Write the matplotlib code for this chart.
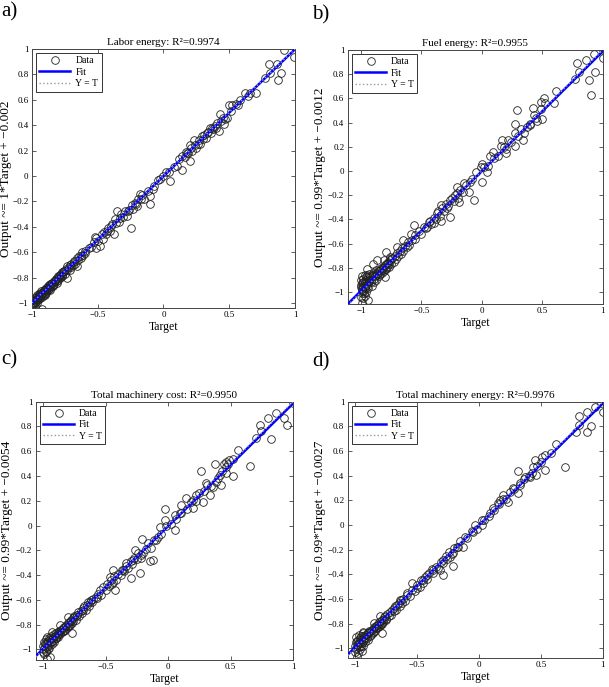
import matplotlib
matplotlib.use('Agg')
import matplotlib.pyplot as plt
from matplotlib.lines import Line2D
from matplotlib.ticker import FuncFormatter, MultipleLocator
import numpy as np

plt.rcParams['font.family'] = ['Liberation Serif', 'DejaVu Serif']

# (target, output) pairs
pts_a = [
    (0.99, 0.94), (0.92, 0.99), (0.86, 0.88), (0.80, 0.88), (0.81, 0.81), (0.89, 0.81), (0.87, 0.755),
    (0.77, 0.77), (0.70, 0.65), (0.62, 0.65), (0.58, 0.60), (0.52, 0.56), (0.50, 0.56), (0.51, 0.51),
    (0.43, 0.49), (0.48, 0.46), (0.46, 0.41), (0.39, 0.395), (0.35, 0.38), (0.38, 0.37), (0.33, 0.34),
    (0.42, 0.355), (0.29, 0.315), (0.28, 0.25), (0.23, 0.28), (0.25, 0.22), (0.20, 0.24), (0.18, 0.18),
    (0.20, 0.12), (0.14, 0.16), (0.10, 0.08), (0.14, 0.05), (0.04, 0.03), (0.05, -0.04), (-0.03, -0.025),
    (-0.08, -0.105), (-0.10, -0.16), (-0.18, -0.145), (-0.15, -0.18), (-0.10, -0.22), (-0.20, -0.24),
    (-0.23, -0.26), (-0.29, -0.28), (-0.35, -0.28), (-0.25, -0.41), (-0.28, -0.315), (-0.34, -0.36),
    (-0.37, -0.34), (-0.40, -0.395), (-0.43, -0.43), (-0.38, -0.46), (-0.46, -0.50), (-0.51, -0.49),
    (-0.52, -0.48), (-0.51, -0.57), (-0.48, -0.55), (-0.57, -0.565), (-0.60, -0.59), (-0.63, -0.63),
    (-0.68, -0.68), (-0.66, -0.71), (-0.71, -0.74), (-0.73, -0.80), (-0.77, -0.79), (-0.81, -0.84),
    (-0.84, -0.87), (-0.86, -0.895), (-0.89, -0.92), (-0.91, -0.935), (-0.94, -0.95), (-0.96, -0.97),
    (-0.99, -1.0), (-0.92, -1.05),
    (-0.55, -0.56), (-0.53, -0.52), (-0.50, -0.51), (-0.47, -0.46), (-0.45, -0.44), (-0.44, -0.46),
    (-0.42, -0.41), (-0.41, -0.43), (-0.39, -0.38), (-0.36, -0.37), (-0.33, -0.33), (-0.32, -0.30),
    (-0.31, -0.32), (-0.27, -0.28), (-0.26, -0.27), (-0.24, -0.23), (-0.22, -0.21), (-0.21, -0.22),
    (-0.19, -0.18), (-0.17, -0.18), (-0.16, -0.15), (-0.12, -0.12), (-0.07, -0.08), (-0.04, -0.03),
    (0.0, 0.0), (0.02, 0.03), (0.08, 0.07), (0.12, 0.13), (0.16, 0.15), (0.17, 0.19), (0.19, 0.18),
    (0.21, 0.22), (0.22, 0.20), (0.24, 0.24), (0.26, 0.25), (0.27, 0.28), (0.30, 0.29), (0.31, 0.32),
    (0.32, 0.30), (0.34, 0.35), (0.36, 0.34), (0.37, 0.38), (0.40, 0.38), (0.41, 0.42), (0.44, 0.43),
    (0.45, 0.46), (0.47, 0.45), (0.55, 0.57), (0.57, 0.56), (0.64, 0.63), (0.66, 0.65),
    (-1.0, -1.02), (-0.99, -0.98), (-0.99, -1.01), (-0.98, -0.96), (-0.98, -1.0), (-0.98, -1.03),
    (-0.97, -0.99), (-0.97, -0.95), (-0.97, -0.97), (-0.96, -0.94), (-0.96, -0.98), (-0.96, -1.0),
    (-0.95, -0.97), (-0.95, -0.93), (-0.95, -0.95), (-0.94, -0.92), (-0.94, -0.96), (-0.93, -0.94),
    (-0.93, -0.91), (-0.92, -0.93), (-0.92, -0.95), (-0.91, -0.90), (-0.91, -0.93), (-0.90, -0.91),
    (-0.90, -0.94), (-0.89, -0.88), (-0.89, -0.91), (-0.88, -0.90), (-0.88, -0.87), (-0.87, -0.86),
    (-0.87, -0.89), (-0.86, -0.88), (-0.86, -0.85), (-0.85, -0.87), (-0.85, -0.84), (-0.84, -0.86),
    (-0.83, -0.85), (-0.82, -0.81), (-0.81, -0.83), (-0.80, -0.79), (-0.80, -0.82), (-0.79, -0.80),
    (-0.78, -0.77), (-0.77, -0.79), (-0.77, -0.76), (-0.76, -0.75), (-0.75, -0.77), (-0.74, -0.73),
    (-0.73, -0.74), (-0.73, -0.71), (-0.72, -0.72), (-0.71, -0.70), (-0.70, -0.72), (-0.70, -0.69),
    (-0.69, -0.70), (-0.68, -0.67), (-0.67, -0.69), (-0.66, -0.65), (-0.65, -0.66), (-0.64, -0.63),
    (-0.63, -0.65), (-0.62, -0.60), (-0.61, -0.62), (-0.60, -0.61),
    (-0.995, -0.99), (-0.985, -1.0), (-0.975, -0.98), (-0.965, -0.96), (-0.955, -0.96), (-0.945, -0.94),
    (-0.935, -0.93), (-0.925, -0.92), (-0.915, -0.92), (-0.905, -0.90), (-0.895, -0.89), (-0.885, -0.88),
    (-0.875, -0.88), (-0.865, -0.87), (-0.855, -0.85), (-0.845, -0.84), (-0.835, -0.83), (-0.825, -0.83),
    (-0.815, -0.81), (-0.805, -0.80), (-0.795, -0.79), (-0.785, -0.78), (-0.775, -0.78), (-0.765, -0.76),
    (-0.755, -0.75),
]

pts_b = [
    (1.0, 1.0), (1.0, 0.93), (0.93, 0.97), (0.86, 0.92), (0.79, 0.89), (0.80, 0.82), (0.94, 0.82),
    (0.89, 0.75), (0.77, 0.76), (0.90, 0.63), (0.61, 0.66), (0.60, 0.565), (0.51, 0.60), (0.49, 0.57),
    (0.52, 0.56), (0.42, 0.52), (0.29, 0.50), (0.49, 0.51), (0.43, 0.46), (0.50, 0.43), (0.46, 0.41),
    (0.40, 0.39), (0.27, 0.39), (0.32, 0.35), (0.35, 0.31), (0.34, 0.26), (0.27, 0.31), (0.22, 0.255),
    (0.17, 0.26), (0.27, 0.21), (0.20, 0.145), (0.09, 0.16), (0.155, 0.21), (0.07, 0.12), (0.0, 0.06),
    (-0.01, 0.035), (0.045, -0.01), (-0.05, -0.01), (0.0, -0.09), (-0.095, -0.09), (-0.067, -0.24),
    (-0.15, -0.10), (-0.205, -0.13), (-0.11, -0.17), (-0.205, -0.18), (-0.26, -0.24), (-0.19, -0.255),
    (-0.26, -0.38), (-0.29, -0.31), (-0.34, -0.28), (-0.37, -0.35), (-0.34, -0.41), (-0.40, -0.43),
    (-0.43, -0.41), (-0.45, -0.46), (-0.565, -0.45), (-0.59, -0.52), (-0.55, -0.56), (-0.65, -0.57),
    (-0.70, -0.63), (-0.79, -0.67), (-0.76, -0.71), (-0.81, -0.74), (-0.87, -0.74), (-0.90, -0.77),
    (-0.80, -0.88), (-0.95, -0.81), (-0.95, -0.86), (-0.97, -1.03), (-0.99, -1.09), (-0.94, -1.07),
    (-1.0, -0.94), (-0.99, -0.99),
    (-0.58, -0.57), (-0.55, -0.53), (-0.52, -0.50), (-0.50, -0.52), (-0.48, -0.46), (-0.46, -0.47),
    (-0.44, -0.42), (-0.42, -0.44), (-0.40, -0.39), (-0.38, -0.40), (-0.36, -0.33), (-0.35, -0.37),
    (-0.33, -0.31), (-0.31, -0.33), (-0.30, -0.27), (-0.28, -0.29), (-0.25, -0.22), (-0.23, -0.25),
    (-0.22, -0.20), (-0.20, -0.22), (-0.18, -0.16), (-0.16, -0.17), (-0.13, -0.12), (-0.08, -0.07),
    (0.02, 0.03), (0.05, 0.04), (0.10, 0.11), (0.13, 0.12), (0.18, 0.20), (0.20, 0.18), (0.24, 0.24),
    (0.30, 0.29), (0.37, 0.36), (0.40, 0.38), (0.45, 0.44),
    (-1.0, -1.04), (-1.0, -0.96), (-1.0, -0.90), (-0.99, -1.01), (-0.99, -0.93), (-0.99, -0.87),
    (-0.99, -0.98), (-0.98, -1.05), (-0.98, -0.95), (-0.98, -0.89), (-0.98, -0.99), (-0.97, -0.92),
    (-0.97, -0.97), (-0.97, -0.86), (-0.96, -0.94), (-0.96, -1.00), (-0.96, -0.90), (-0.95, -0.91),
    (-0.95, -0.96), (-0.94, -0.88), (-0.94, -0.93), (-0.93, -0.90), (-0.93, -0.85), (-0.92, -0.92),
    (-0.91, -0.87), (-0.91, -0.95), (-0.90, -0.86), (-0.89, -0.89), (-0.88, -0.84), (-0.88, -0.90),
    (-0.87, -0.85), (-0.86, -0.83), (-0.85, -0.87), (-0.84, -0.82), (-0.83, -0.84), (-0.82, -0.80),
    (-0.81, -0.83), (-0.80, -0.78), (-0.79, -0.81), (-0.78, -0.76), (-0.77, -0.79), (-0.76, -0.74),
    (-0.75, -0.77), (-0.74, -0.72), (-0.73, -0.75), (-0.72, -0.70), (-0.71, -0.73), (-0.70, -0.68),
    (-0.69, -0.70), (-0.68, -0.66), (-0.67, -0.69), (-0.66, -0.64), (-0.65, -0.66), (-0.64, -0.62),
    (-0.62, -0.63), (-0.61, -0.59), (-0.60, -0.61),
    (-0.995, -0.97), (-0.985, -0.92), (-0.975, -1.01), (-0.965, -0.95), (-0.955, -0.88), (-0.945, -0.97),
    (-0.935, -0.91), (-0.925, -0.88), (-0.915, -0.90), (-0.905, -0.84), (-0.895, -0.92), (-0.885, -0.87),
    (-0.875, -0.82), (-0.865, -0.86), (-0.855, -0.83), (-0.845, -0.85), (-0.835, -0.80), (-0.825, -0.82),
    (-0.815, -0.79), (-0.805, -0.81), (-0.795, -0.77), (-0.785, -0.79), (-0.775, -0.75), (-0.765, -0.77),
    (-0.755, -0.73),
]

pts_c = [
    (1.0, 0.99), (0.867, 0.91), (0.93, 0.865), (0.95, 0.81), (0.80, 0.865), (0.733, 0.81), (0.747, 0.765),
    (0.707, 0.71), (0.82, 0.70), (0.56, 0.61), (0.653, 0.48), (0.52, 0.54), (0.467, 0.515), (0.49, 0.53),
    (0.445, 0.50), (0.373, 0.497), (0.267, 0.44), (0.52, 0.40), (0.467, 0.427), (0.413, 0.41),
    (0.387, 0.354), (0.427, 0.327), (0.36, 0.314), (0.333, 0.246), (0.307, 0.34), (0.28, 0.19),
    (0.20, 0.14), (0.20, 0.206), (0.227, 0.246), (0.147, 0.22), (0.107, 0.166), (0.093, 0.098),
    (0.053, 0.085), (-0.027, 0.13), (-0.027, 0.044), (0.053, -0.036), (-0.067, -0.01), (-0.08, -0.09),
    (-0.093, -0.117), (-0.133, -0.184), (-0.12, -0.28), (-0.147, -0.29), (-0.20, -0.225), (-0.213, -0.265),
    (-0.205, -0.11), (-0.267, -0.198), (-0.28, -0.28), (-0.293, -0.427), (-0.227, -0.386),
    (-0.333, -0.305), (-0.36, -0.36), (-0.44, -0.36), (-0.467, -0.413), (-0.44, -0.454), (-0.427, -0.52),
    (-0.547, -0.52), (-0.573, -0.588), (-0.627, -0.615), (-0.68, -0.68), (-0.733, -0.72), (-0.80, -0.736),
    (-0.773, -0.87), (-0.867, -0.80), (-0.933, -0.857), (-0.96, -1.0), (-0.973, -1.075), (-0.947, -1.06),
    (-0.58, -0.58), (-0.56, -0.55), (-0.54, -0.56), (-0.52, -0.50), (-0.50, -0.52), (-0.49, -0.47),
    (-0.47, -0.49), (-0.46, -0.44), (-0.45, -0.47), (-0.43, -0.41), (-0.42, -0.44), (-0.40, -0.39),
    (-0.38, -0.40), (-0.37, -0.36), (-0.35, -0.37), (-0.34, -0.33), (-0.32, -0.34), (-0.30, -0.29),
    (-0.29, -0.31), (-0.27, -0.26), (-0.25, -0.27), (-0.24, -0.22), (-0.22, -0.24), (-0.18, -0.19),
    (-0.16, -0.14), (-0.11, -0.12), (-0.06, -0.07), (-0.02, 0.0), (0.02, 0.01), (0.06, 0.05),
    (0.10, 0.10), (0.15, 0.13), (0.18, 0.19), (0.22, 0.20), (0.25, 0.26), (0.29, 0.28), (0.31, 0.33),
    (0.34, 0.32), (0.40, 0.38), (0.43, 0.44), (0.46, 0.47), (0.48, 0.50),
    (-1.0, -0.97), (-1.0, -1.02), (-0.99, -0.94), (-0.99, -1.0), (-0.99, -1.04), (-0.98, -0.96),
    (-0.98, -0.92), (-0.98, -1.01), (-0.97, -0.98), (-0.97, -0.95), (-0.97, -0.90), (-0.96, -0.97),
    (-0.96, -0.93), (-0.95, -0.96), (-0.95, -0.91), (-0.94, -0.94), (-0.94, -0.89), (-0.93, -0.92),
    (-0.93, -0.96), (-0.92, -0.90), (-0.92, -0.93), (-0.91, -0.88), (-0.90, -0.91), (-0.90, -0.87),
    (-0.89, -0.89), (-0.88, -0.86), (-0.88, -0.90), (-0.87, -0.87), (-0.86, -0.84), (-0.85, -0.86),
    (-0.84, -0.83), (-0.83, -0.85), (-0.82, -0.81), (-0.81, -0.83), (-0.80, -0.79), (-0.79, -0.81),
    (-0.78, -0.77), (-0.77, -0.79), (-0.76, -0.75), (-0.75, -0.73), (-0.74, -0.76), (-0.73, -0.72),
    (-0.72, -0.70), (-0.71, -0.73), (-0.70, -0.69), (-0.69, -0.71), (-0.68, -0.67), (-0.67, -0.65),
    (-0.66, -0.68), (-0.65, -0.64), (-0.64, -0.62), (-0.63, -0.65), (-0.62, -0.60), (-0.61, -0.62),
    (-0.60, -0.59),
    (-0.995, -0.99), (-0.985, -0.95), (-0.975, -1.02), (-0.965, -0.94), (-0.955, -0.99), (-0.945, -0.92),
    (-0.935, -0.94), (-0.925, -0.91), (-0.915, -0.94), (-0.905, -0.89), (-0.895, -0.91), (-0.885, -0.88),
    (-0.875, -0.85), (-0.865, -0.88), (-0.855, -0.84), (-0.845, -0.85), (-0.835, -0.82), (-0.825, -0.84),
    (-0.815, -0.80), (-0.805, -0.81), (-0.795, -0.78), (-0.785, -0.80), (-0.775, -0.76), (-0.765, -0.77),
    (-0.755, -0.74),
]

pts_d = [
    (0.987, 0.986), (1.0, 0.92), (0.933, 0.96), (0.87, 0.92), (0.807, 0.884), (0.81, 0.81), (0.906, 0.80),
    (0.87, 0.757), (0.78, 0.757), (0.62, 0.66), (0.584, 0.58), (0.53, 0.567), (0.51, 0.554), (0.45, 0.527),
    (0.436, 0.473), (0.69, 0.473), (0.53, 0.446), (0.315, 0.44), (0.463, 0.405), (0.41, 0.39), (0.37, 0.39),
    (0.33, 0.34), (0.195, 0.243), (0.168, 0.20), (0.154, 0.176), (0.315, 0.257), (0.275, 0.297),
    (0.235, 0.19), (0.114, 0.135), (0.087, 0.094), (0.02, 0.04), (-0.034, 0.0), (0.02, 0.0),
    (-0.047, -0.054), (-0.114, -0.095), (-0.128, -0.176), (-0.18, -0.176), (-0.208, -0.23),
    (-0.235, -0.257), (-0.208, -0.33), (-0.289, -0.284), (-0.315, -0.365), (-0.289, -0.405),
    (-0.369, -0.365), (-0.423, -0.405), (-0.45, -0.446), (-0.544, -0.473), (-0.503, -0.514),
    (-0.584, -0.554), (-0.638, -0.608), (-0.69, -0.676), (-0.80, -0.743), (-0.785, -0.878),
    (-0.852, -0.797), (-0.933, -0.865), (-0.933, -0.986), (-0.987, -1.07), (-0.946, -1.027),
    (-0.58, -0.57), (-0.56, -0.58), (-0.54, -0.53), (-0.52, -0.54), (-0.50, -0.49), (-0.48, -0.50),
    (-0.47, -0.45), (-0.45, -0.47), (-0.44, -0.42), (-0.42, -0.44), (-0.40, -0.39), (-0.38, -0.36),
    (-0.37, -0.39), (-0.35, -0.34), (-0.33, -0.35), (-0.31, -0.30), (-0.29, -0.31), (-0.27, -0.25),
    (-0.26, -0.28), (-0.24, -0.22), (-0.22, -0.24), (-0.20, -0.19), (-0.17, -0.18), (-0.15, -0.13),
    (-0.10, -0.11), (-0.06, -0.05), (-0.02, -0.03), (0.04, 0.04), (0.08, 0.07), (0.12, 0.12),
    (0.16, 0.17), (0.19, 0.21), (0.22, 0.21), (0.25, 0.27), (0.28, 0.29), (0.33, 0.32), (0.36, 0.37),
    (0.40, 0.40), (0.43, 0.42), (0.47, 0.48), (0.50, 0.51),
    (-1.0, -0.98), (-1.0, -1.03), (-0.99, -0.95), (-0.99, -1.01), (-0.99, -0.91), (-0.98, -0.97),
    (-0.98, -1.04), (-0.98, -0.93), (-0.97, -0.99), (-0.97, -0.95), (-0.97, -0.89), (-0.96, -0.96),
    (-0.96, -0.92), (-0.95, -0.98), (-0.95, -0.90), (-0.94, -0.94), (-0.94, -0.88), (-0.93, -0.92),
    (-0.92, -0.95), (-0.92, -0.89), (-0.91, -0.91), (-0.90, -0.88), (-0.90, -0.93), (-0.89, -0.87),
    (-0.88, -0.90), (-0.87, -0.86), (-0.86, -0.88), (-0.85, -0.84), (-0.84, -0.86), (-0.83, -0.82),
    (-0.82, -0.84), (-0.81, -0.80), (-0.80, -0.82), (-0.79, -0.78), (-0.78, -0.80), (-0.77, -0.76),
    (-0.76, -0.74), (-0.75, -0.77), (-0.74, -0.72), (-0.73, -0.74), (-0.72, -0.71), (-0.71, -0.73),
    (-0.70, -0.69), (-0.69, -0.70), (-0.68, -0.66), (-0.67, -0.69), (-0.66, -0.65), (-0.65, -0.63),
    (-0.64, -0.66), (-0.63, -0.61), (-0.62, -0.63), (-0.61, -0.60), (-0.60, -0.62),
    (-0.995, -1.0), (-0.985, -0.94), (-0.975, -0.97), (-0.965, -1.01), (-0.955, -0.93), (-0.945, -0.96),
    (-0.935, -0.90), (-0.925, -0.93), (-0.915, -0.89), (-0.905, -0.92), (-0.895, -0.88), (-0.885, -0.86),
    (-0.875, -0.89), (-0.865, -0.85), (-0.855, -0.87), (-0.845, -0.83), (-0.835, -0.84), (-0.825, -0.81),
    (-0.815, -0.83), (-0.805, -0.79), (-0.795, -0.80), (-0.785, -0.77), (-0.775, -0.79), (-0.765, -0.75),
    (-0.755, -0.76),
]

titles = ['Labor energy: R\u00b2=0.9974', 'Fuel energy: R\u00b2=0.9955',
          'Total machinery cost: R\u00b2=0.9950', 'Total machinery energy: R\u00b2=0.9976']
ylabels = ['Output ~= 1*Target + \u22120.002', 'Output ~= 0.99*Target + \u22120.0012',
           'Output ~= 0.99*Target + \u22120.0054', 'Output ~= 0.99*Target + \u22120.0027']
slopes = [1.0, 0.99, 0.99, 0.99]
intercepts = [-0.002, -0.0012, -0.0054, -0.0027]
letters = ['a)', 'b)', 'c)', 'd)']
xlims = [(-1.0, 1.0), (-1.11, 1.0), (-1.06, 1.0), (-1.06, 1.0)]
ylims = [(-1.04, 1.0), (-1.10, 1.0), (-1.086, 1.0), (-1.08, 1.0)]

rects = [[0.0525, 0.5517, 0.4319, 0.3770],
         [0.5710, 0.5575, 0.4187, 0.3697],
         [0.0586, 0.0393, 0.4225, 0.3760],
         [0.5710, 0.0422, 0.4190, 0.3731]]
ylabel_x = [-0.076, -0.086, -0.090, -0.086]
letter_pos = [(0.002, 0.997), (0.512, 0.993), (0.002, 0.490), (0.512, 0.488)]

fmt = FuncFormatter(lambda v, p: ('%g' % round(v, 2)).replace('-', '\u2212'))

fig = plt.figure(figsize=(6.09, 6.87), dpi=100)

for i, pts in enumerate([pts_a, pts_b, pts_c, pts_d]):
    ax = fig.add_axes(rects[i])
    tgt = [p[0] for p in pts]
    out = [p[1] for p in pts]
    ax.plot(tgt, out, 'o', mfc='none', mec='#222222', ms=5.5, mew=0.6, zorder=2)
    ax.set_xlim(*xlims[i])
    ax.set_ylim(*ylims[i])
    xs = np.array(xlims[i])
    ax.plot(xs, slopes[i] * xs + intercepts[i], color='#0000ff', lw=1.8, zorder=3)
    ax.plot(xs, xs, ':', color='#9a9a9a', lw=1.0, zorder=4)

    ax.xaxis.set_major_locator(MultipleLocator(0.5))
    ax.yaxis.set_major_locator(MultipleLocator(0.2))
    ax.xaxis.set_major_formatter(fmt)
    ax.yaxis.set_major_formatter(fmt)
    ax.tick_params(direction='in', top=True, right=True, length=3, width=0.6,
                   labelsize=6.5, pad=2.5, color='#444444')
    for s in ax.spines.values():
        s.set_linewidth(0.7)
        s.set_color('#444444')

    ax.set_title(titles[i], fontsize=8, pad=3)
    ax.set_ylabel(ylabels[i], fontsize=9.5)
    ax.yaxis.set_label_coords(ylabel_x[i], 0.5)
    ax.set_xlabel('Target', fontsize=8.5, labelpad=1)

    handles = [Line2D([], [], ls='none', marker='o', mfc='none', mec='#222222', ms=5.5, mew=0.6),
               Line2D([], [], color='#0000ff', lw=1.8),
               Line2D([], [], ls=':', color='#9a9a9a', lw=1.0)]
    leg = ax.legend(handles, ['Data', 'Fit', 'Y = T'], loc='upper left', fontsize=7,
                    fancybox=False, edgecolor='#333333', framealpha=1, handlelength=3.2,
                    borderpad=0.35, labelspacing=0.25, handletextpad=0.5,
                    borderaxespad=0.4)
    leg.get_frame().set_linewidth(0.7)

    fig.text(letter_pos[i][0], letter_pos[i][1], letters[i], fontsize=15, va='top', ha='left')

fig.savefig('out.png', dpi=100)
